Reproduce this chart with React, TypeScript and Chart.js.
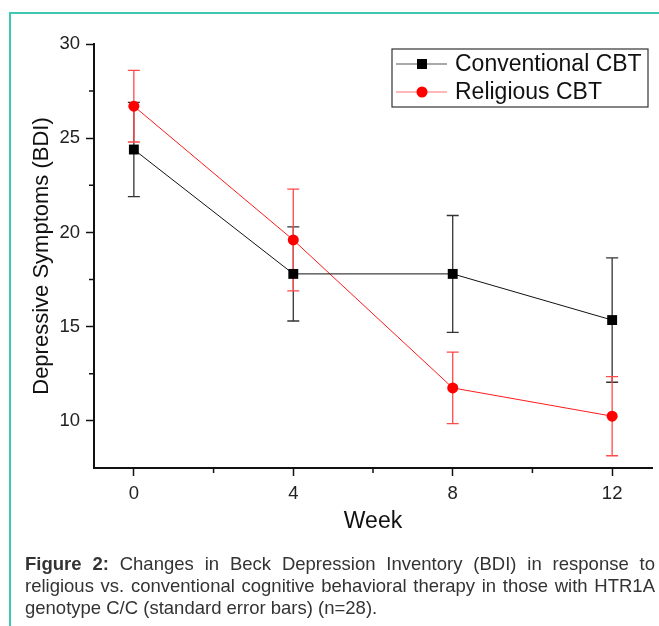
import React, { useEffect, useRef } from 'react';
import { Chart, registerables } from 'chart.js';
Chart.register(...registerables);

const weeks = [0, 4, 8, 12];
const conventional = [24.4, 17.8, 17.8, 15.35];
const conventionalErr = [2.5, 2.5, 3.1, 3.3];
const religious = [26.7, 19.6, 11.75, 10.25];
const religiousErr = [1.9, 2.7, 1.9, 2.1];
const seriesNames = ['Conventional CBT', 'Religious CBT'];
const xTicks = [0, 4, 8, 12];
const xMinorTicks = [2, 6, 10];
const yTicks = [10, 15, 20, 25, 30];
const yMinorTicks = [12.5, 17.5, 22.5, 27.5];

const FONT = "'Liberation Sans', Arial, sans-serif";
const W = 659;
const H = 545;

const errorBarPlugin = {
  id: 'errorBars',
  beforeDatasetsDraw(chart: any) {
    const { ctx } = chart;
    const xs = chart.scales.x;
    const ys = chart.scales.y;
    chart.data.datasets.forEach((ds: any) => {
      const errs: number[] = ds.errors;
      ctx.save();
      ctx.strokeStyle = ds.errorColor;
      ctx.lineWidth = 1.3;
      ds.data.forEach((p: any, i: number) => {
        const x = xs.getPixelForValue(p.x);
        const yt = ys.getPixelForValue(p.y + errs[i]);
        const yb = ys.getPixelForValue(p.y - errs[i]);
        ctx.beginPath();
        ctx.moveTo(x, yt);
        ctx.lineTo(x, yb);
        ctx.moveTo(x - 6, yt);
        ctx.lineTo(x + 6, yt);
        ctx.moveTo(x - 6, yb);
        ctx.lineTo(x + 6, yb);
        ctx.stroke();
      });
      ctx.restore();
    });
  },
};

const minorTickPlugin = {
  id: 'minorTicks',
  afterDraw(chart: any) {
    const { ctx, chartArea } = chart;
    const xs = chart.scales.x;
    const ys = chart.scales.y;
    ctx.save();
    ctx.strokeStyle = '#111';
    ctx.lineWidth = 1.5;
    ctx.beginPath();
    xMinorTicks.forEach((v) => {
      const x = xs.getPixelForValue(v);
      ctx.moveTo(x, chartArea.bottom);
      ctx.lineTo(x, chartArea.bottom + 5);
    });
    yMinorTicks.forEach((v) => {
      const y = ys.getPixelForValue(v);
      ctx.moveTo(chartArea.left, y);
      ctx.lineTo(chartArea.left - 5, y);
    });
    ctx.stroke();
    ctx.restore();
  },
};

const legendPlugin = {
  id: 'boxLegend',
  afterDraw(chart: any) {
    const { ctx } = chart;
    const bx = 392, by = 49, bw = 256, bh = 58;
    ctx.save();
    ctx.strokeStyle = '#333';
    ctx.lineWidth = 1.2;
    ctx.strokeRect(bx, by, bw, bh);
    chart.data.datasets.forEach((ds: any, i: number) => {
      const y = by + 15 + i * 28;
      ctx.strokeStyle = ds.legendLine;
      ctx.lineWidth = 1.2;
      ctx.beginPath();
      ctx.moveTo(bx + 4, y);
      ctx.lineTo(bx + 55, y);
      ctx.stroke();
      ctx.fillStyle = ds.backgroundColor;
      if (ds.pointStyle === 'rect') {
        ctx.fillRect(bx + 30 - 5, y - 5, 10, 10);
      } else {
        ctx.beginPath();
        ctx.arc(bx + 30, y, 5.5, 0, Math.PI * 2);
        ctx.fill();
      }
      ctx.fillStyle = '#111';
      ctx.font = `23px ${FONT}`;
      ctx.textBaseline = 'middle';
      ctx.textAlign = 'left';
      ctx.fillText(ds.label, bx + 63, y + 1);
    });
    ctx.restore();
  },
};

function ChartView() {
  const ref = useRef<HTMLCanvasElement>(null);
  useEffect(() => {
    const canvas = ref.current!;
    const chart = new Chart(canvas, {
      type: 'line',
      data: {
        datasets: [
          {
            label: seriesNames[0],
            data: weeks.map((w, i) => ({ x: w, y: conventional[i] })),
            errors: conventionalErr,
            errorColor: '#333',
            legendLine: '#555',
            borderColor: '#111',
            backgroundColor: '#000',
            borderWidth: 1,
            pointStyle: 'rect',
            pointRadius: 7,
            pointBorderWidth: 0,
          } as any,
          {
            label: seriesNames[1],
            data: weeks.map((w, i) => ({ x: w, y: religious[i] })),
            errors: religiousErr,
            errorColor: '#ff4a4a',
            legendLine: '#ff7070',
            borderColor: '#ff1a1a',
            backgroundColor: '#ff0000',
            borderWidth: 1,
            pointStyle: 'circle',
            pointRadius: 5.5,
            pointBorderWidth: 0,
          } as any,
        ],
      },
      options: {
        animation: false,
        responsive: false,
        layout: { padding: { left: 0, right: 4, top: 44, bottom: 0 } },
        plugins: { legend: { display: false }, tooltip: { enabled: false } },
        scales: {
          x: {
            type: 'linear',
            min: -1,
            max: 13,
            afterBuildTicks: (s: any) => {
              s.ticks = xTicks.map((v) => ({ value: v }));
            },
            afterFit: (s: any) => {
              s.height = H - 468;
            },
            grid: { drawOnChartArea: false, tickLength: 8, tickColor: '#111', tickWidth: 1.5 },
            border: { display: true, color: '#111', width: 2 },
            ticks: { color: '#222', font: { family: FONT, size: 18.5 }, padding: 7, maxRotation: 0 },
            title: {
              display: true,
              text: 'Week',
              color: '#111',
              font: { family: FONT, size: 23 },
              padding: { top: 0, bottom: 10 },
            },
          },
          y: {
            type: 'linear',
            min: 7.5,
            max: 30,
            afterBuildTicks: (s: any) => {
              s.ticks = yTicks.map((v) => ({ value: v }));
            },
            afterFit: (s: any) => {
              s.width = 94;
            },
            grid: { drawOnChartArea: false, tickLength: 8, tickColor: '#111', tickWidth: 1.5 },
            border: { display: true, color: '#111', width: 2 },
            ticks: { color: '#222', font: { family: FONT, size: 18.5 }, padding: 6 },
            title: {
              display: true,
              text: 'Depressive Symptoms (BDI)',
              color: '#111',
              font: { family: FONT, size: 22 },
              padding: { top: 29, bottom: 0 },
            },
          },
        },
      } as any,
      plugins: [errorBarPlugin, minorTickPlugin, legendPlugin],
    });
    return () => chart.destroy();
  }, []);
  return (
    <canvas
      ref={ref}
      width={W}
      height={H}
      style={{ position: 'fixed', left: 0, top: 0, width: W, height: H }}
    />
  );
}

export default function App() {
  const lineStyle: React.CSSProperties = {
    whiteSpace: 'nowrap',
    textAlign: 'justify',
    textAlignLast: 'justify' as any,
  };
  return (
    <div>
      <div
        style={{
          position: 'fixed',
          left: 9,
          top: 12,
          right: -20,
          bottom: -20,
          borderTop: '2px solid #3ec8b4',
          borderLeft: '2px solid #3ec8b4',
        }}
      />
      <ChartView />
      <div
        style={{
          position: 'fixed',
          left: 25,
          top: 553,
          width: 630,
          fontFamily: FONT,
          fontSize: 18.5,
          lineHeight: '21.8px',
          color: '#333',
        }}
      >
        <div style={lineStyle}>
          <b>Figure 2:</b> Changes in Beck Depression Inventory (BDI) in response to
        </div>
        <div style={lineStyle}>
          religious vs. conventional cognitive behavioral therapy in those with HTR1A
        </div>
        <div style={{ whiteSpace: 'nowrap' }}>genotype C/C (standard error bars) (n=28).</div>
      </div>
    </div>
  );
}
